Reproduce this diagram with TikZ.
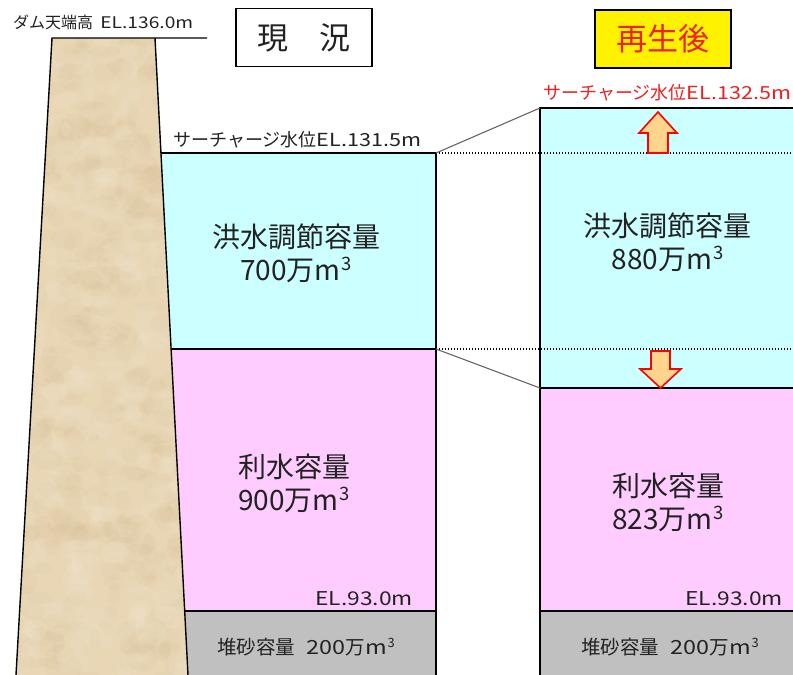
\documentclass[tikz,border=0pt]{standalone}
\usepackage{fontspec}
\setmainfont{Noto Sans CJK JP}
\newfontfamily\widelatin[FakeStretch=1.2]{Noto Sans CJK JP}
\newcommand\cubed{\kern0.03em\raisebox{0.36em}{\scalebox{0.66}{3}}}
\definecolor{flood}{RGB}{204,255,255}
\definecolor{util}{RGB}{255,204,255}
\definecolor{sed}{RGB}{192,192,192}
\definecolor{damfill}{RGB}{232,214,181}
\definecolor{damdark}{RGB}{205,178,132}
\definecolor{damlight}{RGB}{246,236,216}
\definecolor{arrowfill}{RGB}{255,212,140}
\definecolor{redtext}{RGB}{238,32,32}
\definecolor{inkgray}{RGB}{34,34,34}
\begin{document}
\begin{tikzpicture}[x=1pt,y=-1pt,
  edge/.style={line width=1.4pt,black},
  levelline/.style={line width=1.3pt,black,dash pattern=on 1.3pt off 1.7pt},
  linkline/.style={line width=1.1pt,black!60},
  lbl/.style={inner sep=0pt,text=inkgray},
  biglbl/.style={lbl,align=center,font=\fontsize{28}{33}\selectfont},
  midlbl/.style={lbl,font=\fontsize{19}{19}\selectfont\widelatin},
  smalllbl/.style={lbl,font=\fontsize{18}{18}\selectfont},
  sedlbl/.style={lbl,font=\fontsize{19.5}{19.5}\selectfont},
  titlebox/.style={draw,line width=1.4pt,minimum width=136pt,minimum height=58pt,inner sep=0pt,font=\fontsize{31}{31}\selectfont},
  bigarrow/.style={draw=red,line width=1.6pt,fill=arrowfill,line join=miter}]
\useasboundingbox (0,0) rectangle (793,675);
\fill[white] (0,0) rectangle (793,675);

% ---- present reservoir (left), bounded by the dam face ----
\fill[flood] (160.96,153) -- (436,153) -- (436,349) -- (171.11,349) -- cycle;
\fill[util]  (171.11,349) -- (436,349) -- (436,611) -- (184.68,611) -- cycle;
\fill[sed]   (184.68,611) -- (436,611) -- (436,675) -- (188,675) -- cycle;
\draw[edge] (160.96,153) -- (436,153) -- (436,675);
\draw[edge] (171.11,349) -- (436,349);
\draw[edge] (184.68,611) -- (436,611);

% ---- reservoir after rehabilitation (right) ----
\fill[flood] (540,108) rectangle (793,388);
\fill[util]  (540,388) rectangle (793,611);
\fill[sed]   (540,611) rectangle (793,675);
\draw[edge] (540,675) -- (540,108) -- (793,108);
\draw[edge] (540,388) -- (793,388);
\draw[edge] (540,611) -- (793,611);

% ---- level references ----
\coordinate (oldtop) at (436,153);
\coordinate (oldmid) at (436,349);
\coordinate (newtop) at (540,108);
\coordinate (newmid) at (540,388);
\coordinate (topend) at (793,153);
\coordinate (midend) at (793,349);
\draw[levelline] (oldtop) -- (topend);
\draw[levelline] (oldmid) -- (midend);
\draw[linkline] (oldtop) -- (newtop);
\draw[linkline] (oldmid) -- (newmid);

% ---- dam body with sandy texture ----
\begin{scope}
  \clip (52,38) -- (155,38) -- (188,675) -- (16,675) -- cycle;
  \fill[damfill] (0,30) rectangle (200,680);
  \pgfmathsetseed{11}
  \foreach \i in {1,...,360}{
    \pgfmathsetmacro{\px}{14+rnd*176}
    \pgfmathsetmacro{\py}{36+rnd*642}
    \pgfmathsetmacro{\rx}{5+rnd*14}
    \pgfmathsetmacro{\ry}{4+rnd*10}
    \fill[damdark,opacity=0.07] (\px,\py) ellipse ({\rx pt} and {\ry pt});
  }
  \foreach \i in {1,...,300}{
    \pgfmathsetmacro{\px}{14+rnd*176}
    \pgfmathsetmacro{\py}{36+rnd*642}
    \pgfmathsetmacro{\rx}{4+rnd*12}
    \pgfmathsetmacro{\ry}{3+rnd*9}
    \fill[damlight,opacity=0.12] (\px,\py) ellipse ({\rx pt} and {\ry pt});
  }
\end{scope}
\draw[edge] (16,675) -- (52,38) -- (207,38);
\draw[edge] (155,38) -- (188,675);

% ---- arrows showing the reallocation ----
\draw[bigarrow] (658,112) -- (677,133) -- (668,133) -- (668,153) -- (648,153) -- (648,133) -- (639,133) -- cycle;
\draw[bigarrow] (660.5,388) -- (681,369) -- (670,369) -- (670,351) -- (651,351) -- (651,369) -- (640,369) -- cycle;

% ---- titles ----
\node[titlebox,fill=white,text=inkgray] (present) at (304,37.5) {現　況};
\node[titlebox,fill=yellow,text=redtext] (after) at (663,39) {再生後};

% ---- labels ----
\node[lbl,anchor=west,font=\fontsize{16}{16}\selectfont] (crest) at (13,22) {ダム天端高\hspace{0.45em}{\widelatin EL.136.0m}};
\node[smalllbl,anchor=west] (swlold) at (173,140) {サーチャージ水位{\widelatin EL.131.5m}};
\node[smalllbl,anchor=west,text=redtext] (swlnew) at (543,93) {サーチャージ水位{\widelatin EL.132.5m}};

\node[biglbl] (floodold) at (296,253.5) {洪水調節容量\\700万m\cubed};
\node[biglbl] (floodnew) at (667.5,242) {洪水調節容量\\880万m\cubed};
\node[biglbl] (utilold) at (294,483) {利水容量\\900万m\cubed};
\node[biglbl] (utilnew) at (668,502.5) {利水容量\\823万m\cubed};

\node[midlbl,anchor=east] (elold) at (413,599) {EL.93.0m};
\node[midlbl,anchor=east] (elnew) at (783,599) {EL.93.0m};
\node[sedlbl] (sedold) at (306,647) {堆砂容量\hspace{0.6em}{\widelatin 200}万{\widelatin m}\cubed};
\node[sedlbl] (sednew) at (670,647) {堆砂容量\hspace{0.6em}{\widelatin 200}万{\widelatin m}\cubed};
\end{tikzpicture}
\end{document}
